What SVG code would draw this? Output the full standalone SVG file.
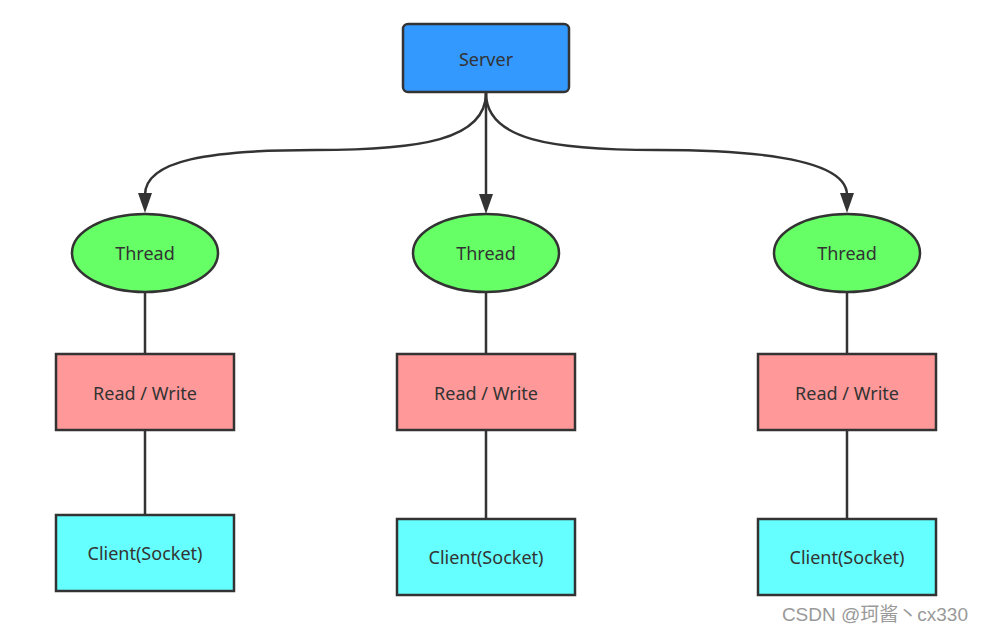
<svg xmlns="http://www.w3.org/2000/svg" width="983" height="634" viewBox="0 0 983 634">
<style>
.n{stroke:#333;stroke-width:2.5}
.t{font-family:"Noto Sans","Open Sans",sans-serif;font-size:18px;fill:#333;text-anchor:middle;dominant-baseline:central}
.c{fill:none;stroke:#333;stroke-width:2.5}
.a{fill:#333}
.srv{fill:#3399FF}.thr{fill:#66FF66}.rw{fill:#FF9999}.cl{fill:#66FFFF}
</style>
<rect width="983" height="634" fill="#fff"/>
<g id="connectors">
<path class="c" d="M486,93 C486,140 420,150 315,150 C210,150 145,160 145,195"/>
<path class="a" d="M138,193 L152,193 L145,213 Z"/>
<path class="c" d="M486,93 L486,196"/>
<path class="a" d="M479,194 L493,194 L486,214 Z"/>
<path class="c" d="M486,93 C486,140 552,150 657,150 C762,150 847,160 847,195"/>
<path class="a" d="M840,193 L854,193 L847,213 Z"/>
<path class="c" d="M145,292 V354 M145,430 V515 M486,292 V354 M486,430 V519 M847,292 V354 M847,430 V519"/>
</g>
<g id="server"><rect class="n srv" x="403" y="24" width="166" height="68" rx="5"/><text class="t" x="486" y="59">Server</text></g>
<g id="thread1"><ellipse class="n thr" cx="145" cy="253" rx="73" ry="39"/><text class="t" x="145" y="253">Thread</text></g>
<g id="thread2"><ellipse class="n thr" cx="486" cy="253" rx="73" ry="39"/><text class="t" x="486" y="253">Thread</text></g>
<g id="thread3"><ellipse class="n thr" cx="847" cy="253" rx="73" ry="39"/><text class="t" x="847" y="253">Thread</text></g>
<g id="rw1"><rect class="n rw" x="56" y="354" width="178" height="76"/><text class="t" x="145" y="393">Read / Write</text></g>
<g id="rw2"><rect class="n rw" x="397" y="354" width="178" height="76"/><text class="t" x="486" y="393">Read / Write</text></g>
<g id="rw3"><rect class="n rw" x="758" y="354" width="178" height="76"/><text class="t" x="847" y="393">Read / Write</text></g>
<g id="client1"><rect class="n cl" x="56" y="515" width="178" height="76"/><text class="t" x="145" y="553">Client(Socket)</text></g>
<g id="client2"><rect class="n cl" x="397" y="519" width="178" height="76"/><text class="t" x="486" y="557">Client(Socket)</text></g>
<g id="client3"><rect class="n cl" x="758" y="519" width="178" height="76"/><text class="t" x="847" y="557">Client(Socket)</text></g>
<text x="968" y="621" text-anchor="end" font-family="'Liberation Sans','Noto Sans CJK SC',sans-serif" font-size="19" fill="#999">CSDN @珂酱丶cx330</text>
</svg>
